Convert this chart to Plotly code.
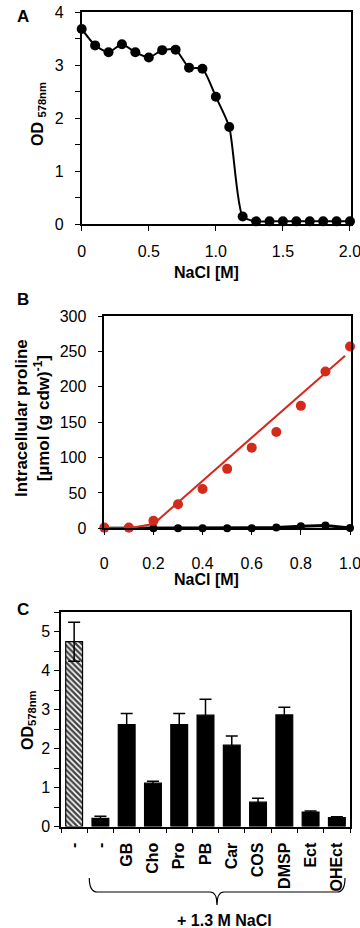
import plotly.graph_objects as go

# ---------------- data ----------------
# Panel A: growth vs NaCl
A_x = [0, 0.1, 0.2, 0.3, 0.4, 0.5, 0.6, 0.7, 0.8, 0.9, 1.0,
       1.1, 1.2, 1.3, 1.4, 1.5, 1.6, 1.7, 1.8, 1.9, 2.0]
A_y = [3.68, 3.37, 3.24, 3.39, 3.24, 3.14, 3.28, 3.29, 2.95, 2.93, 2.40,
       1.83, 0.14, 0.05, 0.05, 0.05, 0.05, 0.05, 0.05, 0.05, 0.05]
A_xticks = [0, 0.5, 1.0, 1.5, 2.0]
A_xticktext = ["0", "0.5", "1.0", "1.5", "2.0"]

# Panel B: intracellular proline
B_x = [0, 0.1, 0.2, 0.3, 0.4, 0.5, 0.6, 0.7, 0.8, 0.9, 1.0]
B_red = [1, 1, 10.5, 34, 55.5, 84, 114, 136, 173, 221.5, 257]
B_black = [0, 0, 0, 0, 0, 0, 0, 1, 3, 4, 0.5]
B_fit_x = [0, 0.1, 0.2, 0.98]
B_fit_y = [0, 0, 6, 244]
B_xticks = [0, 0.2, 0.4, 0.6, 0.8, 1.0]
B_xticktext = ["0", "0.2", "0.4", "0.6", "0.8", "1.0"]

# Panel C: osmoprotection
C_labels = ["-", "-", "GB", "Cho", "Pro", "PB", "Car", "COS", "DMSP", "Ect", "OHEct"]
C_values = [4.74, 0.21, 2.61, 1.11, 2.61, 2.855, 2.085, 0.625, 2.86, 0.37, 0.23]
C_errors = [0.50, 0.05, 0.29, 0.05, 0.29, 0.41, 0.235, 0.10, 0.20, 0.03, 0.02]
C_pos = list(range(len(C_labels)))

# ---------------- styling ----------------
W, H = 360, 928
FONT = "Liberation Sans, Arial, Helvetica, sans-serif"
RED = "#D42A1C"


def px(x):
    return x / W


def py(y):
    return 1 - y / H


fig = go.Figure()

# Panel A
fig.add_trace(go.Scatter(
    x=A_x, y=A_y, mode="lines+markers", xaxis="x", yaxis="y",
    line=dict(color="black", width=2, shape="spline", smoothing=0.6),
    marker=dict(color="black", size=10), cliponaxis=False, showlegend=False))

# Panel B
fig.add_trace(go.Scatter(
    x=B_x, y=B_black, mode="lines+markers", xaxis="x2", yaxis="y2",
    line=dict(color="black", width=3), marker=dict(color="black", size=8),
    cliponaxis=False, showlegend=False))
fig.add_trace(go.Scatter(
    x=B_fit_x, y=B_fit_y, mode="lines", xaxis="x2", yaxis="y2",
    line=dict(color=RED, width=2), cliponaxis=False, showlegend=False))
fig.add_trace(go.Scatter(
    x=B_x, y=B_red, mode="markers", xaxis="x2", yaxis="y2",
    marker=dict(color=RED, size=10), cliponaxis=False, showlegend=False))

# Panel C
bar_colors = ["white"] + ["black"] * (len(C_labels) - 1)
bar_patterns = ["\\"] + [""] * (len(C_labels) - 1)
fig.add_trace(go.Bar(
    x=C_pos, y=C_values, xaxis="x3", yaxis="y3", width=0.64,
    marker=dict(color=bar_colors, line=dict(color="black", width=1.2),
                pattern=dict(shape=bar_patterns, fgcolor="black", bgcolor="white",
                             fgopacity=1, size=4, solidity=0.6)),
    error_y=dict(type="data", array=C_errors, color="black", thickness=1.5, width=6),
    showlegend=False))

axis_common = dict(showline=True, linecolor="black", linewidth=1.5, mirror=True,
                   showgrid=False, zeroline=False, ticks="outside", ticklen=5,
                   tickwidth=1, tickcolor="black", automargin=False,
                   ticklabeloverflow="allow",
                   tickfont=dict(family=FONT, size=16, color="black"))

fig.update_layout(
    width=W, height=H, margin=dict(l=0, r=0, t=0, b=0),
    paper_bgcolor="white", plot_bgcolor="white",
    font=dict(family=FONT, size=16, color="black"),
    xaxis=dict(axis_common, domain=[px(81.7), px(351)], range=[0, 2.0075], anchor="y",
               tickmode="array", tickvals=A_xticks, ticktext=A_xticktext,
               ticklabelstandoff=7),
    yaxis=dict(axis_common, domain=[py(224), py(12)], range=[0, 4], anchor="x",
               dtick=1, ticklabelstandoff=8,
               minor=dict(dtick=0.5, ticks="outside", ticklen=5, tickcolor="black")),
    xaxis2=dict(axis_common, domain=[px(104.3), px(351)], range=[0, 1.004], anchor="y2",
                tickmode="array", tickvals=B_xticks, ticktext=B_xticktext,
                ticklabelstandoff=15),
    yaxis2=dict(axis_common, domain=[py(528.3), py(316)], range=[0, 300], anchor="x2",
                dtick=50, ticklabelstandoff=8),
    xaxis3=dict(axis_common, domain=[px(61), px(350)], range=[-0.5, 10.5], anchor="y3",
                tickmode="array", tickvals=C_pos, ticktext=C_labels, tickangle=-90,
                ticklen=0, ticklabelstandoff=8,
                tickfont=dict(family=FONT, size=16, color="black", weight="bold"),
                minor=dict(tick0=-0.5, dtick=1, ticks="outside", ticklen=5, tickcolor="black")),
    yaxis3=dict(axis_common, domain=[py(826.5), py(612)], range=[0, 5.5], anchor="x3",
                dtick=1, ticklabelstandoff=1,
                minor=dict(dtick=0.5, ticks="outside", ticklen=5, tickcolor="black")),
)

ann = []


def add_text(text, x, y, size=16, angle=0):
    ann.append(dict(text=text, x=px(x), y=py(y), xref="paper", yref="paper",
                    showarrow=False, xanchor="center", yanchor="middle",
                    textangle=angle, font=dict(family=FONT, size=size, color="black")))


add_text("<b>A</b>", 22.5, 17, size=17)
add_text("<b>B</b>", 23, 299, size=17)
add_text("<b>C</b>", 22.5, 609, size=17)
add_text("<b>OD</b> <sub><b>578nm</b></sub>", 39, 114, angle=-90)
add_text("<b>Intracellular proline</b><br><b>[µmol (g cdw)<sup>-1</sup>]</b>", 32, 418, size=17, angle=-90)
add_text("<b>OD</b><sub><b>578nm</b></sub>", 28, 720, angle=-90)
add_text("<b>NaCl [M]</b>", 206, 272)
add_text("<b>NaCl [M]</b>", 207, 579)
add_text("<b>+ 1.3 M NaCl</b>", 224, 920)
fig.update_layout(annotations=ann)

# curly brace under the NaCl-treated groups
xl, xr, xm = 89.3, 345.0, 217.0
yt, yb, ytip = 878.0, 892.0, 905.0


def P(x, y):
    return f"{px(x):.5f},{py(y):.5f}"


brace = (f"M {P(xl, yt)} Q {P(xl, yb)} {P(xl + 8, yb)} L {P(xm - 7, yb)} "
         f"Q {P(xm, yb)} {P(xm, ytip)} Q {P(xm, yb)} {P(xm + 7, yb)} "
         f"L {P(xr - 8, yb)} Q {P(xr, yb)} {P(xr, yt)}")
fig.add_shape(type="path", path=brace, xref="paper", yref="paper",
              line=dict(color="black", width=1.2))

fig.write_html("out.html", config={"displayModeBar": False},
               post_script="document.body.style.margin='0px';"
                           "document.body.style.overflow='hidden';")
